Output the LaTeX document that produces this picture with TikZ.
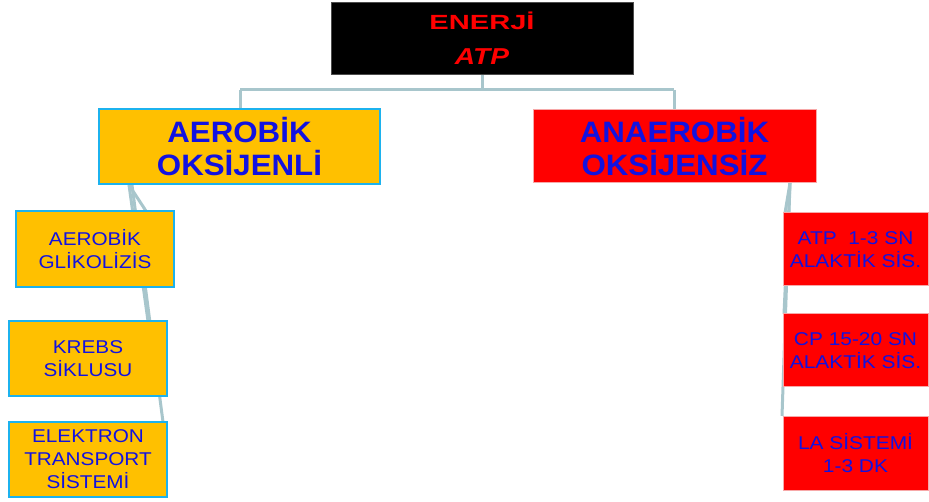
\documentclass[tikz,border=0pt]{standalone}
\usepackage{fontspec}
\usepackage{graphicx}
\setmainfont{Liberation Sans}
\definecolor{orng}{HTML}{FFC000}
\definecolor{cyanb}{HTML}{1CB2EE}
\definecolor{redf}{HTML}{FF0000}
\definecolor{pinkb}{HTML}{F7A8A8}
\definecolor{txtb}{HTML}{1212E0}
\definecolor{conn}{HTML}{A8C6CC}
\newcommand{\hs}[2]{\scalebox{#1}[1]{#2}}
\tikzset{
  every node/.style={inner sep=0pt, align=center},
  topbox/.style={fill=black, draw=black!70, line width=0.8pt, minimum width=302pt, minimum height=72pt,
     text=redf, font=\bfseries\fontsize{20.5}{35}\selectfont},
  aerbox/.style={fill=orng, draw=cyanb, line width=2pt, text=txtb},
  anabox/.style={fill=redf, draw=pinkb, line width=1pt, text=txtb},
  bigtxt/.style={font=\bfseries\fontsize{29.5}{33}\selectfont},
  smalltxt/.style={font=\fontsize{18.5}{23}\selectfont},
  conline/.style={draw=conn, line width=3pt},
}
\begin{document}
\begin{tikzpicture}[x=1pt, y=-1pt]
\useasboundingbox (0,0) rectangle (929,502);
\coordinate (j) at (482,90);
\coordinate (jl) at (240,90);
\coordinate (jr) at (674,90);
\coordinate (fanL) at (129,185);
\coordinate (fanL2) at (132,185);
\coordinate (fanR) at (790,183);
\coordinate (g1t) at (146,211);
\coordinate (g2t) at (148,321);
\coordinate (g3t) at (163,422);
\coordinate (r1t) at (785,213);
\coordinate (r2t) at (784,314);
\coordinate (r3t) at (782,416);

\node[topbox] (top) at (482,38) {\hs{1.42}{ENERJİ}\\ \hs{1.22}{\fontsize{23}{35}\selectfont\itshape ATP}};

\node[aerbox, bigtxt, minimum width=281pt, minimum height=75pt] (aer) at (239.5,146.5)
   {\hs{1.06}{AEROBİK}\\ \hs{1.06}{OKSİJENLİ}};
\node[anabox, bigtxt, minimum width=283pt, minimum height=73pt] (ana) at (674.5,146.5)
   {\hs{1.06}{ANAEROBİK}\\ \hs{1.06}{OKSİJENSİZ}};

\draw[conline] (top.south -| j) -- (j);
\draw[conline] (jl) -- (jr);
\draw[conline] (jl) -- (aer.north -| jl);
\draw[conline] (jr) -- (ana.north -| jr);
\draw[conline] (fanL) -- (g1t);
\draw[conline] (fanL) -- (g2t);
\draw[conline] (fanL2) -- (g3t);
\draw[conline] (fanR) -- (r1t);
\draw[conline] (fanR) -- (r2t);
\draw[conline] (fanR) -- (r3t);

\node[aerbox, smalltxt, minimum width=158pt, minimum height=76pt] (g1) at (95,249)
   {\hs{1.12}{AEROBİK}\\ \hs{1.12}{GLİKOLİZİS}};
\node[aerbox, smalltxt, minimum width=158pt, minimum height=75pt] (g2) at (88,358.5)
   {\hs{1.12}{KREBS}\\ \hs{1.12}{SİKLUSU}};
\node[aerbox, smalltxt, minimum width=158pt, minimum height=75pt] (g3) at (88,459.5)
   {\hs{1.12}{ELEKTRON}\\ \hs{1.12}{TRANSPORT}\\ \hs{1.12}{SİSTEMİ}};

\node[anabox, smalltxt, minimum width=145pt, minimum height=73pt] (r1) at (855.5,249.5)
   {\hs{1.13}{ATP\ \ 1-3 SN}\\ \hs{1.13}{ALAKTİK SİS.}};
\node[anabox, smalltxt, minimum width=145pt, minimum height=73pt] (r2) at (855.5,350.5)
   {\hs{1.13}{CP 15-20 SN}\\ \hs{1.13}{ALAKTİK SİS.}};
\node[anabox, smalltxt, minimum width=145pt, minimum height=74pt] (r3) at (855.5,453)
   {\hs{1.13}{LA SİSTEMİ}\\ \hs{1.13}{1-3 DK}};

% parent boxes redrawn over the start of the fans
\node[aerbox, bigtxt, minimum width=281pt, minimum height=75pt] at (aer) {\hs{1.06}{AEROBİK}\\ \hs{1.06}{OKSİJENLİ}};
\node[anabox, bigtxt, minimum width=283pt, minimum height=73pt] at (ana) {\hs{1.06}{ANAEROBİK}\\ \hs{1.06}{OKSİJENSİZ}};
\node[topbox] at (top) {\hs{1.42}{ENERJİ}\\ \hs{1.22}{\fontsize{23}{35}\selectfont\itshape ATP}};
\end{tikzpicture}
\end{document}
